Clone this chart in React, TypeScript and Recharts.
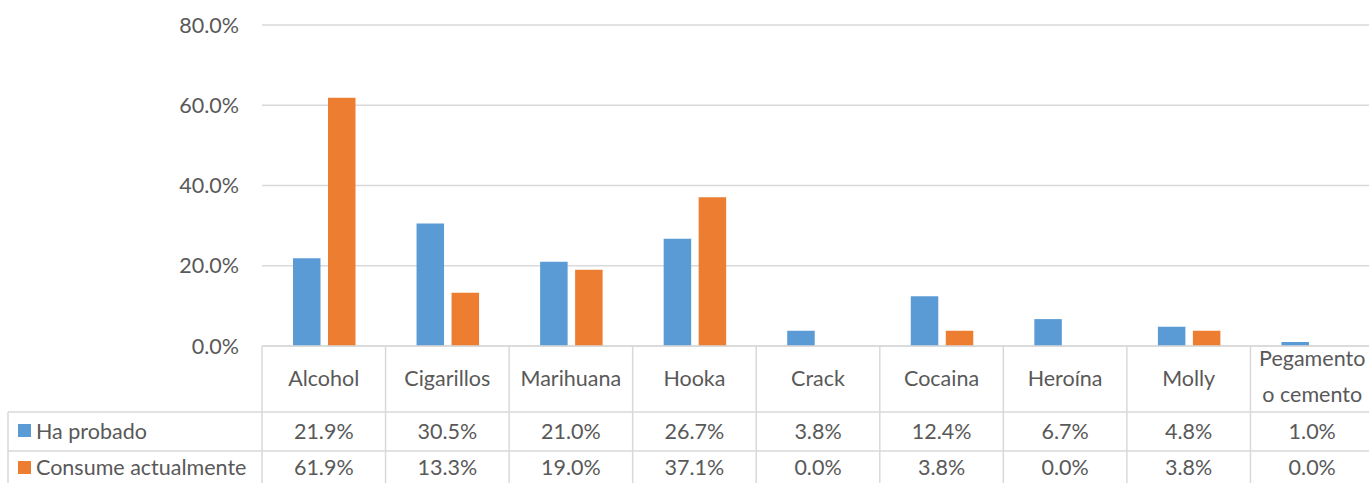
import React from "react";
import { BarChart, Bar, XAxis, YAxis, CartesianGrid } from "recharts";

const categories = ["Alcohol", "Cigarillos", "Marihuana", "Hooka", "Crack", "Cocaina", "Heroína", "Molly", "Pegamento o cemento"];
const haProbado = [21.9, 30.5, 21.0, 26.7, 3.8, 12.4, 6.7, 4.8, 1.0];
const consumeActualmente = [61.9, 13.3, 19.0, 37.1, 0.0, 3.8, 0.0, 3.8, 0.0];
const seriesNames = ["Ha probado", "Consume actualmente"];
const yTicks = [0, 20, 40, 60, 80];

const BLUE = "#5B9BD5";
const ORANGE = "#ED7D31";
const GRID = "#d9d9d9";
const TEXT = "#595959";
const FONT = "Lato, 'Open Sans', sans-serif";
const FS = 21.5;

const W = 1374;
const H = 483;
const PLOT_LEFT = 262;
const X_AXIS_H = 137;
const BAND = (W - PLOT_LEFT) / categories.length;

const data = categories.map((name, i) => ({
  name,
  probado: haProbado[i],
  consume: consumeActualmente[i],
}));

const pct = (v: number) => `${v.toFixed(1)}%`;

function splitLabel(s: string): string[] {
  if (s.length <= 11) return [s];
  const i = s.indexOf(" ");
  return [s.slice(0, i), s.slice(i + 1)];
}

function TableTick(props: any) {
  const { x, y, payload, index } = props;
  const y0 = y; // axis line
  const row1 = y0 + 66;
  const row2 = y0 + 105;
  const bottom = H;
  const lines = splitLabel(payload.value);
  const txt = { fontFamily: FONT, fontSize: FS, fill: TEXT } as const;
  return (
    <g>
      <line x1={x + BAND / 2} y1={y0} x2={x + BAND / 2} y2={bottom} stroke={GRID} strokeWidth={1.5} />
      {index === 0 && (
        <g>
          <line x1={x - BAND / 2} y1={y0} x2={x - BAND / 2} y2={bottom} stroke={GRID} strokeWidth={1.5} />
          <line x1={8} y1={row1} x2={W} y2={row1} stroke={GRID} strokeWidth={1.5} />
          <line x1={8} y1={row2} x2={W} y2={row2} stroke={GRID} strokeWidth={1.5} />
          <line x1={8} y1={row1} x2={8} y2={bottom} stroke={GRID} strokeWidth={1.5} />
          <rect x={18} y={row1 + 12} width={13} height={13} fill={BLUE} />
          <text x={36} y={row1 + 19} dominantBaseline="central" {...txt}>{seriesNames[0]}</text>
          <rect x={18} y={row2 + 10} width={13} height={13} fill={ORANGE} />
          <text x={36} y={row2 + 16} dominantBaseline="central" {...txt}>{seriesNames[1]}</text>
        </g>
      )}
      {lines.length === 1 ? (
        <text x={x} y={y0 + 32} textAnchor="middle" dominantBaseline="central" {...txt}>{lines[0]}</text>
      ) : (
        lines.map((l, k) => (
          <text key={k} x={x} y={y0 + 12 + k * 36} textAnchor="middle" dominantBaseline="central" {...txt}>{l}</text>
        ))
      )}
      <text x={x} y={row1 + 19} textAnchor="middle" dominantBaseline="central" {...txt}>{pct(haProbado[index])}</text>
      <text x={x} y={row2 + 16} textAnchor="middle" dominantBaseline="central" {...txt}>{pct(consumeActualmente[index])}</text>
    </g>
  );
}

export default function App() {
  return (
    <div style={{ position: "absolute", left: 0, top: 0, width: 1369, height: H, overflow: "hidden", background: "#fff" }}>
      <BarChart
        width={W}
        height={H}
        data={data}
        margin={{ top: 25, right: 0, bottom: 0, left: 0 }}
        barSize={27.5}
        barGap={7.5}
      >
        <CartesianGrid vertical={false} stroke={GRID} strokeWidth={1.5} />
        <XAxis
          dataKey="name"
          height={X_AXIS_H}
          interval={0}
          tickLine={false}
          tickSize={0}
          tickMargin={0}
          axisLine={{ stroke: GRID, strokeWidth: 1.5 }}
          tick={<TableTick />}
        />
        <YAxis
          width={PLOT_LEFT}
          domain={[0, 80]}
          ticks={yTicks}
          tickFormatter={pct}
          axisLine={false}
          tickLine={false}
          tickSize={0}
          tickMargin={23}
          tick={{ fontFamily: FONT, fontSize: FS, fill: TEXT }}
        />
        <Bar dataKey="probado" name={seriesNames[0]} fill={BLUE} isAnimationActive={false} />
        <Bar dataKey="consume" name={seriesNames[1]} fill={ORANGE} isAnimationActive={false} />
      </BarChart>
    </div>
  );
}
